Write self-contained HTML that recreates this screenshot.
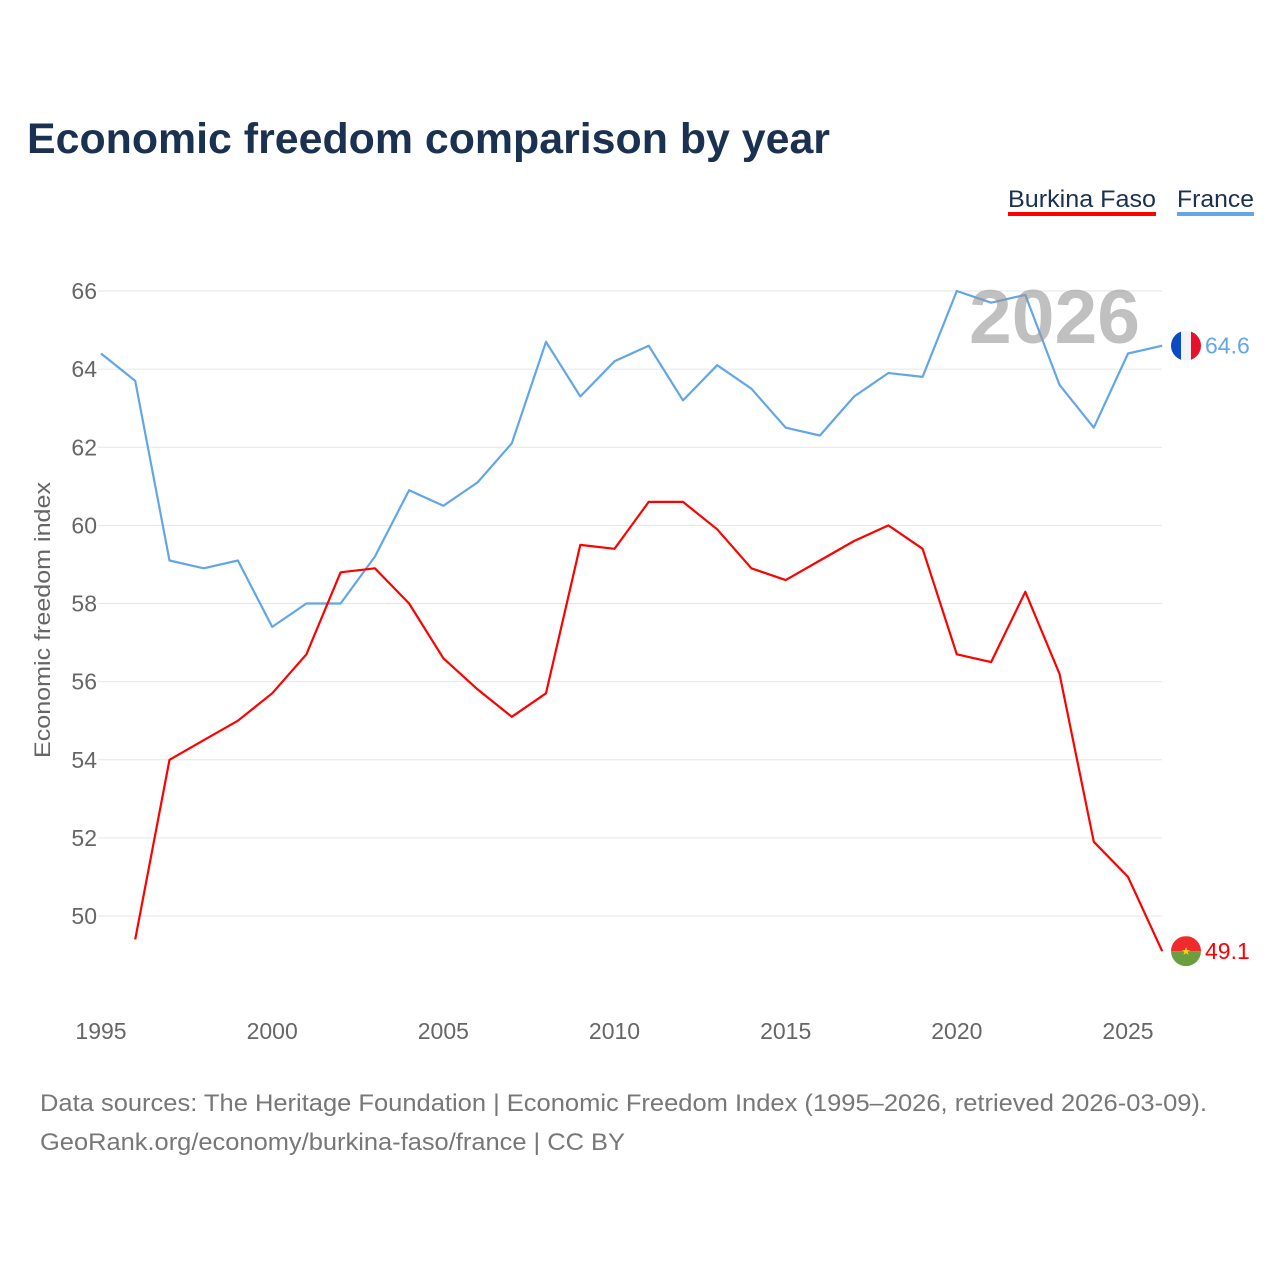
<!DOCTYPE html>
<html><head><meta charset="utf-8"><style>
body{margin:0;background:#fff;width:1280px;height:1280px;overflow:hidden;font-family:"Liberation Sans",sans-serif}
</style></head><body>
<svg width="1280" height="1280" xmlns="http://www.w3.org/2000/svg">
<text x="27" y="153" font-size="43" font-weight="bold" fill="#1b3151" textLength="803" lengthAdjust="spacingAndGlyphs">Economic freedom comparison by year</text>
<g>
<text x="1008" y="207" font-size="24" fill="#1b3151" textLength="148" lengthAdjust="spacingAndGlyphs">Burkina Faso</text>
<rect x="1008" y="212" width="148" height="4" fill="#ff0000"/>
<text x="1177" y="207" font-size="24" fill="#1b3151" textLength="77" lengthAdjust="spacingAndGlyphs">France</text>
<rect x="1177" y="212" width="77" height="4" fill="#62a6e8"/>
</g>
<g id="grid"></g>
<g id="yticks"></g>
<g id="xticks"></g>
<text transform="translate(50,620) rotate(-90)" text-anchor="middle" font-size="22" fill="#666" textLength="276" lengthAdjust="spacingAndGlyphs">Economic freedom index</text>
<g id="lines"></g>
<text x="969" y="343" font-size="76" font-weight="bold" fill="rgba(150,150,150,0.6)" textLength="171" lengthAdjust="spacingAndGlyphs">2026</text>
<g id="ends"></g>
<text x="40" y="1111" font-size="24" fill="#777" textLength="1167" lengthAdjust="spacingAndGlyphs">Data sources: The Heritage Foundation | Economic Freedom Index (1995–2026, retrieved 2026-03-09).</text>
<text x="40" y="1150" font-size="24" fill="#777" textLength="585" lengthAdjust="spacingAndGlyphs">GeoRank.org/economy/burkina-faso/france | CC BY</text>
</svg>
<script>
const years=[1995,1996,1997,1998,1999,2000,2001,2002,2003,2004,2005,2006,2007,2008,2009,2010,2011,2012,2013,2014,2015,2016,2017,2018,2019,2020,2021,2022,2023,2024,2025,2026];
const france=[64.4,63.7,59.1,58.9,59.1,57.4,58.0,58.0,59.2,60.9,60.5,61.1,62.1,64.7,63.3,64.2,64.6,63.2,64.1,63.5,62.5,62.3,63.3,63.9,63.8,66.0,65.7,65.9,63.6,62.5,64.4,64.6];
const burkina=[null,49.4,54.0,54.5,55.0,55.7,56.7,58.8,58.9,58.0,56.6,55.8,55.1,55.7,59.5,59.4,60.6,60.6,59.9,58.9,58.6,59.1,59.6,60.0,59.4,56.7,56.5,58.3,56.2,51.9,51.0,49.1];
const yTicks=[50,52,54,56,58,60,62,64,66];
const xTicks=[1995,2000,2005,2010,2015,2020,2025];
const NS="http://www.w3.org/2000/svg";
const X=y=>101+(y-1995)*(1128-101)/30;
const Y=v=>916-(v-50)*(916-291)/16;
function mk(t,a,p){const e=document.createElementNS(NS,t);for(const k in a)e.setAttribute(k,a[k]);document.getElementById(p).appendChild(e);return e;}
yTicks.forEach(v=>{
 const l=mk('line',{x1:98,x2:1162,y1:Y(v),y2:Y(v),stroke:'#e6e6e6','stroke-width':1},'grid');
 
 
 const t=mk('text',{x:97,y:Y(v)+8,'text-anchor':'end','font-size':23,fill:'#666'},'yticks');
 t.textContent=v;
 
 
});
xTicks.forEach(v=>{
 const t=mk('text',{x:X(v),y:1039,'text-anchor':'middle','font-size':23,fill:'#666'},'xticks');
 t.textContent=v;
 
 
});
function line(vals,color,name){
 let d='';vals.forEach((v,i)=>{if(v==null)return;d+=(d?'L':'M')+X(years[i]).toFixed(1)+','+Y(v).toFixed(1);});
 const p=mk('path',{d:d,fill:'none',stroke:color,'stroke-width':2.2,'stroke-linejoin':'round'},'lines');
 
 
}
line(france,'#62a6e8','france-line');
line(burkina,'#ff0000','burkina-faso-line');
const fv=france[france.length-1],bv=burkina[burkina.length-1];
const fy=Y(fv),by=Y(bv);
const cx=1186;
const clipF=mk('clipPath',{id:'cf'},'ends');mk('circle',{cx:cx,cy:fy,r:15},'ends');clipF.appendChild(document.getElementById('ends').lastChild);
const gF=mk('g',{'clip-path':'url(#cf)'},'ends');


[['#0a4ac2',0],['#f2f2f2',10],['#e8112d',20]].forEach(([c,o])=>{const r=document.createElementNS(NS,'rect');r.setAttribute('x',cx-15+o);r.setAttribute('y',fy-15);r.setAttribute('width',10.5);r.setAttribute('height',30);r.setAttribute('fill',c);gF.appendChild(r);});
const clipB=mk('clipPath',{id:'cb'},'ends');mk('circle',{cx:cx,cy:by,r:15},'ends');clipB.appendChild(document.getElementById('ends').lastChild);
const gB=mk('g',{'clip-path':'url(#cb)'},'ends');


[['#ef2b2d',-15],['#6a9e3f',0]].forEach(([c,o])=>{const r=document.createElementNS(NS,'rect');r.setAttribute('x',cx-15);r.setAttribute('y',by+o);r.setAttribute('width',30);r.setAttribute('height',15);r.setAttribute('fill',c);gB.appendChild(r);});
const st=document.createElementNS(NS,'text');st.setAttribute('x',cx);st.setAttribute('y',by+4);st.setAttribute('text-anchor','middle');st.setAttribute('font-size',11);st.setAttribute('fill','#fcd116');st.textContent='★';gB.appendChild(st);
const tf=mk('text',{x:1205,y:fy+8,'font-size':23,fill:'#62a6e8'},'ends');tf.textContent=fv.toFixed(1);


const tb=mk('text',{x:1205,y:by+8,'font-size':23,fill:'#ff0000'},'ends');tb.textContent=bv.toFixed(1);


</script>
</body></html>
